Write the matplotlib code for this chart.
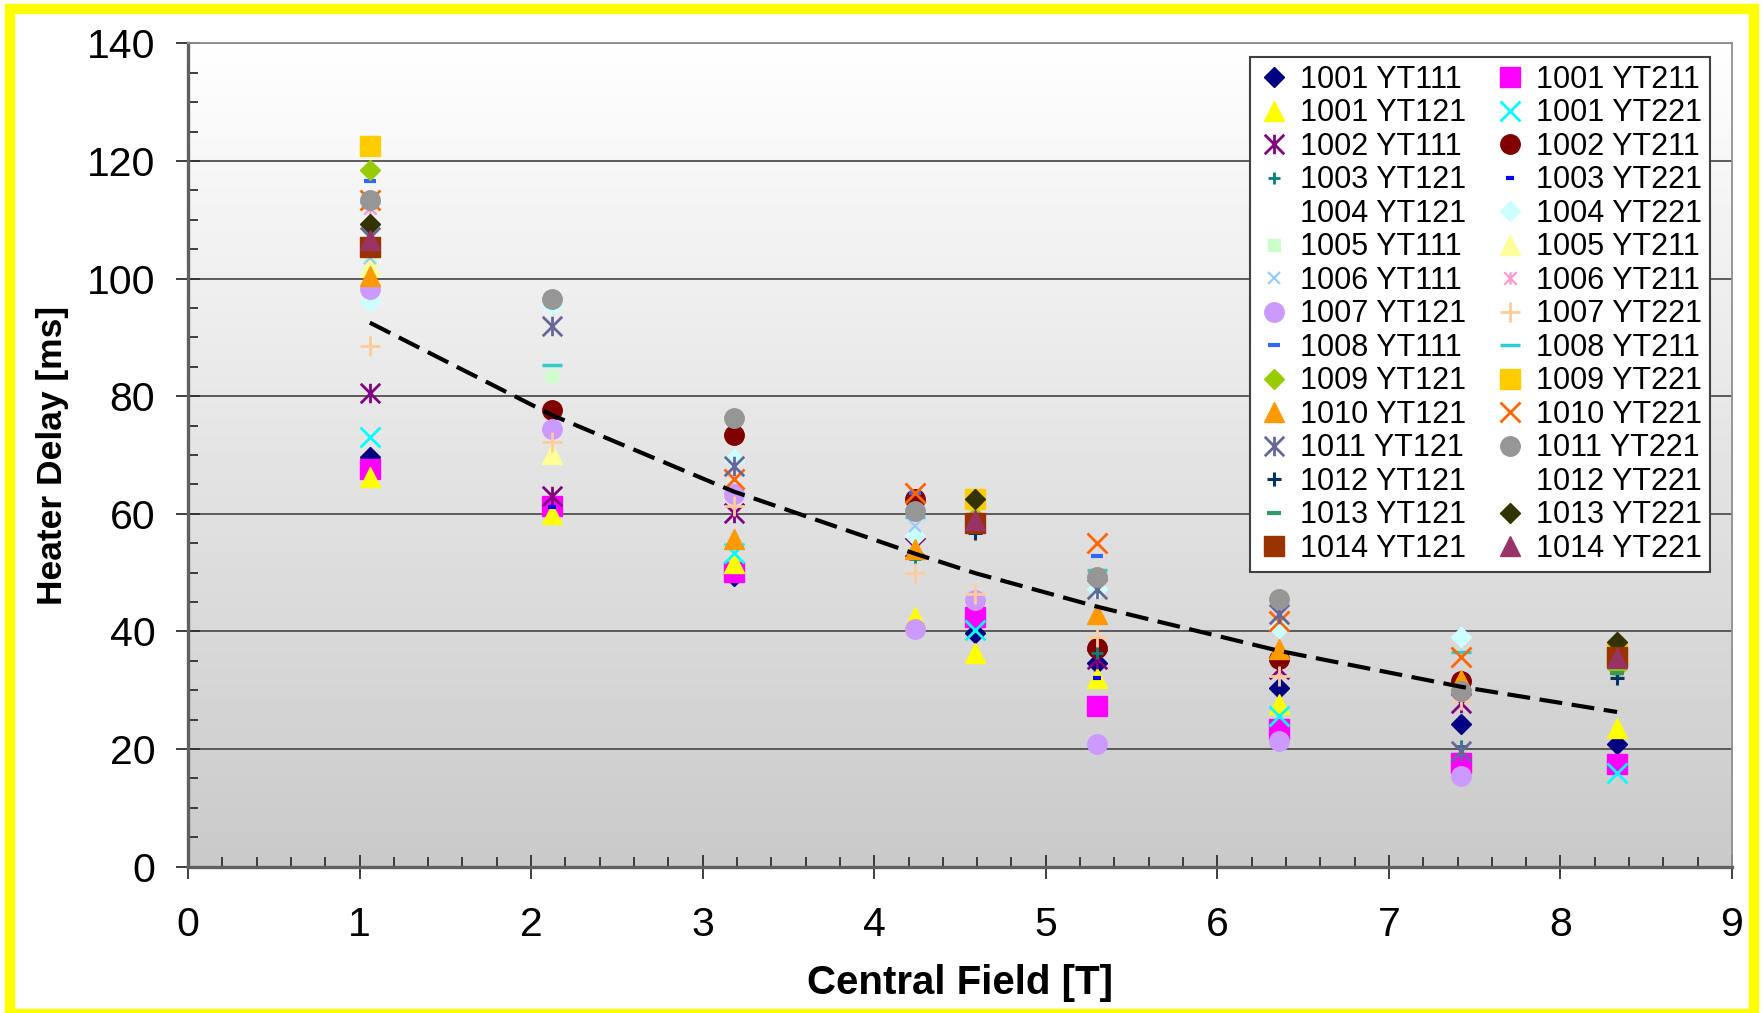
import numpy as np
import matplotlib
matplotlib.use("Agg")
import matplotlib.pyplot as plt
from matplotlib.path import Path
from matplotlib.patches import Rectangle
from matplotlib.ticker import MultipleLocator

plt.rcParams['font.family'] = ['Liberation Sans', 'DejaVu Sans']

nan = np.nan

# ---------------- data ----------------
fields = [1.06, 2.12, 3.18, 4.24, 4.59, 5.30, 6.36, 7.42, 8.33]

d1001_YT111 = [69.6, 61.5, 49.4, nan, 39.7, 34.6, 30.3, 24.2, 20.9]
d1001_YT211 = [67.6, 61.3, 50.1, nan, 42.5, 27.4, 23.4, 17.7, 17.4]
d1001_YT121 = [66.2, 60.0, 51.7, 42.4, 36.4, 32.0, 27.6, nan, 23.6]
d1001_YT221 = [73.0, nan, 53.4, nan, 40.2, nan, 25.6, nan, 16.0]
d1002_YT111 = [80.6, 63.1, 60.1, 54.3, nan, 35.3, 33.6, 27.9, nan]
d1002_YT211 = [nan, 77.6, 73.4, 62.6, nan, 37.1, 35.3, 31.6, nan]
d1003_YT121 = [nan, nan, nan, 52.4, nan, 36.4, nan, 20.5, nan]
d1003_YT221 = [nan, 61.1, nan, nan, nan, 32.0, nan, nan, nan]
d1004_YT121 = [nan, nan, nan, nan, nan, nan, nan, nan, nan]
d1004_YT221 = [96.1, 95.5, 69.3, 56.3, nan, 47.2, 40.6, 39.1, nan]
d1005_YT111 = [103.4, 83.4, nan, nan, nan, nan, nan, nan, nan]
d1005_YT211 = [102.2, 70.2, nan, nan, nan, nan, nan, nan, nan]
d1006_YT111 = [103.5, nan, nan, 58.0, nan, nan, nan, nan, nan]
d1006_YT211 = [112.0, nan, nan, nan, nan, nan, nan, nan, 33.3]
d1007_YT121 = [98.3, 74.5, 63.4, 40.5, 45.4, 20.8, 21.3, 15.4, nan]
d1007_YT221 = [88.5, 72.2, 61.4, 49.9, 46.3, 39.1, 32.4, 28.4, nan]
d1008_YT111 = [116.6, 97.4, nan, 63.5, nan, 52.9, nan, nan, nan]
d1008_YT211 = [113.0, 85.3, nan, 59.4, nan, 50.5, nan, 36.5, nan]
d1009_YT121 = [118.5, nan, nan, nan, 59.5, nan, nan, nan, 33.8]
d1009_YT221 = [122.6, nan, nan, nan, 62.6, nan, nan, nan, 36.4]
d1010_YT121 = [100.5, nan, 55.7, 54.1, nan, 42.9, 37.0, 31.7, nan]
d1010_YT221 = [113.4, nan, 66.0, 63.5, nan, 55.0, 41.8, 35.7, nan]
d1011_YT121 = [107.1, 91.9, 68.1, nan, nan, 47.2, 42.9, 19.6, nan]
d1011_YT221 = [113.4, 96.5, 76.3, 60.5, nan, 49.2, 45.5, 29.9, nan]
d1012_YT121 = [nan, nan, nan, nan, 56.7, nan, nan, nan, 32.1]
d1012_YT221 = [nan, nan, nan, nan, nan, nan, nan, nan, nan]
d1013_YT121 = [nan, nan, nan, nan, nan, nan, nan, nan, 32.9]
d1013_YT221 = [109.2, nan, nan, nan, 62.5, nan, nan, nan, 38.2]
d1014_YT121 = [105.4, nan, nan, nan, 58.5, nan, nan, nan, 35.7]
d1014_YT221 = [106.5, nan, nan, nan, 59.0, nan, nan, nan, 35.5]

trend_x = [1.06, 2.12, 3.18, 4.24, 4.59, 5.30, 6.36, 7.42, 8.33]
trend_y = [92.5, 76.8, 63.8, 53.2, 49.9, 44.2, 36.7, 30.6, 26.3]

x_ticks = [0, 1, 2, 3, 4, 5, 6, 7, 8, 9]
y_ticks = [0, 20, 40, 60, 80, 100, 120, 140]
x_label = "Central Field [T]"
y_label = "Heater Delay [ms]"

# ---------------- styles ----------------
STAR = Path([(-1, -1), (1, 1), (-1, 1), (1, -1), (0, -1), (0, 1)],
            [Path.MOVETO, Path.LINETO, Path.MOVETO, Path.LINETO, Path.MOVETO, Path.LINETO])

# label, data, marker, color, markersize, edge width
series = [
    ("1001 YT111", d1001_YT111, 'D', '#000080', 10.5, 1),
    ("1001 YT211", d1001_YT211, 's', '#FF00FF', 14, 1),
    ("1001 YT121", d1001_YT121, '^', '#FFFF00', 15, 1),
    ("1001 YT221", d1001_YT221, 'x', '#00FFFF', 14, 2),
    ("1002 YT111", d1002_YT111, STAR, '#800080', 14, 2),
    ("1002 YT211", d1002_YT211, 'o', '#800000', 14, 1),
    ("1003 YT121", d1003_YT121, '+', '#008080', 8, 2),
    ("1003 YT221", d1003_YT221, '_', '#0000FF', 6, 3),
    ("1004 YT121", d1004_YT121, 'none', '#000000', 10, 1),
    ("1004 YT221", d1004_YT221, 'D', '#CCFFFF', 10.5, 1),
    ("1005 YT111", d1005_YT111, 's', '#CCFFCC', 8, 1),
    ("1005 YT211", d1005_YT211, '^', '#FFFF99', 15, 1),
    ("1006 YT111", d1006_YT111, 'x', '#99CCFF', 9, 1.6),
    ("1006 YT211", d1006_YT211, STAR, '#FF99CC', 9, 1.6),
    ("1007 YT121", d1007_YT121, 'o', '#CC99FF', 14, 1),
    ("1007 YT221", d1007_YT221, '+', '#FFCC99', 14, 2),
    ("1008 YT111", d1008_YT111, '_', '#3366FF', 9, 3),
    ("1008 YT211", d1008_YT211, '_', '#33CCCC', 15, 2.5),
    ("1009 YT121", d1009_YT121, 'D', '#99CC00', 10.5, 1),
    ("1009 YT221", d1009_YT221, 's', '#FFCC00', 14, 1),
    ("1010 YT121", d1010_YT121, '^', '#FF9900', 15, 1),
    ("1010 YT221", d1010_YT221, 'x', '#FF6600', 14, 2),
    ("1011 YT121", d1011_YT121, STAR, '#666699', 14, 2),
    ("1011 YT221", d1011_YT221, 'o', '#969696', 14, 1),
    ("1012 YT121", d1012_YT121, '+', '#003366', 10, 2.2),
    ("1012 YT221", d1012_YT221, 'none', '#000000', 10, 1),
    ("1013 YT121", d1013_YT121, '_', '#339966', 10, 3),
    ("1013 YT221", d1013_YT221, 'D', '#333300', 10.5, 1),
    ("1014 YT121", d1014_YT121, 's', '#993300', 14, 1),
    ("1014 YT221", d1014_YT221, '^', '#993366', 15, 1),
]

W, H = 1763, 1013
fig = plt.figure(figsize=(W / 100, H / 100), dpi=100)
fig.patch.set_facecolor('white')

# axes placement (pixels -> fractions)
ax_l, ax_r, ax_t, ax_b = 188, 1732, 43.3, 866.7
ax = fig.add_axes([ax_l / W, 1 - ax_b / H, (ax_r - ax_l) / W, (ax_b - ax_t) / H])

# gradient background of plot area
grad = np.linspace(0.79, 0.997, 256).reshape(-1, 1)
ax.imshow(grad, extent=[0, 1, 0, 1], transform=ax.transAxes, aspect='auto',
          cmap='gray', vmin=0, vmax=1, origin='lower', zorder=0)

ax.set_xlim(0, 9)
ax.set_ylim(0, 140)
ax.set_xticks(x_ticks)
ax.set_yticks(y_ticks)
ax.xaxis.set_minor_locator(MultipleLocator(0.2))
ax.yaxis.set_minor_locator(MultipleLocator(5))

ax.yaxis.grid(True, which='major', color='#505050', linewidth=1.3, zorder=1)
ax.set_axisbelow(True)

handles = []
for label, data, marker, color, ms, mew in series:
    h, = ax.plot(fields, data, linestyle='none', marker=marker, markersize=ms,
                 markerfacecolor=color, markeredgecolor=color, markeredgewidth=mew,
                 label=label, zorder=3)
    handles.append(h)

ax.plot(trend_x, trend_y, color='black', linewidth=3.0, dashes=(5.5, 2.3), zorder=4)

# ticks and spines
ax.tick_params(axis='both', which='major', direction='inout', length=17, width=1.3,
               color='#303030', labelsize=29.5)
ax.tick_params(axis='both', which='minor', direction='in', length=7, width=1.3,
               color='#303030')
ax.tick_params(axis='y', which='major', pad=15)
ax.tick_params(axis='x', which='major', pad=20)
for side in ('left', 'bottom'):
    ax.spines[side].set_color('#606060')
    ax.spines[side].set_linewidth(2.4)
for side in ('top', 'right'):
    ax.spines[side].set_color('#909090')
    ax.spines[side].set_linewidth(1.3)

ax.set_xlabel(x_label, fontsize=29, fontweight='bold', labelpad=14)
ax.set_ylabel(y_label, fontsize=25.5, fontweight='bold', labelpad=13)

# legend: row-wise order as in the original (two columns)
ordered = handles[0::2] + handles[1::2]
leg = ax.legend(handles=ordered, labels=[h.get_label() for h in ordered], ncol=2,
                loc='upper right', bbox_to_anchor=(0.9858, 0.9833), fontsize=22,
                frameon=True, fancybox=False, framealpha=1, edgecolor='#404040',
                borderpad=0.25, labelspacing=0.115, handlelength=1.1,
                handletextpad=0.3, columnspacing=0.9, borderaxespad=0)
leg.get_frame().set_linewidth(1.5)
leg.set_zorder(5)

# yellow outer frame
frame = Rectangle((10 / W, 1 - 1014 / H), (1754 - 10) / W, (1014 - 9.5) / H,
                  transform=fig.transFigure, fill=False, edgecolor='#FFFF00',
                  linewidth=7.5, zorder=10)
fig.patches.append(frame)

fig.savefig("out.png", dpi=100, facecolor='white')
